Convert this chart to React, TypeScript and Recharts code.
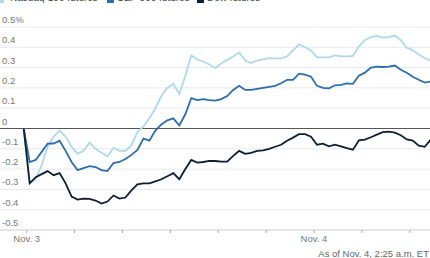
import React from 'react';
import { LineChart, Line, XAxis, YAxis, CartesianGrid, ReferenceLine } from 'recharts';

// hours since the Nov. 3 tick, every half hour
const hours = [
  -0.25, 0.25, 0.75, 1.25, 1.75, 2.25, 2.75, 3.25, 3.75, 4.25,
  4.75, 5.25, 5.75, 6.25, 6.75, 7.25, 7.75, 8.25, 8.75, 9.25,
  9.75, 10.25, 10.75, 11.25, 11.75, 12.25, 12.75, 13.25, 13.75, 14.25,
  14.75, 15.25, 15.75, 16.25, 16.75, 17.25, 17.75, 18.25, 18.75, 19.25,
  19.75, 20.25, 20.75, 21.25, 21.75, 22.25, 22.75, 23.25, 23.75, 24.25,
  24.75, 25.25, 25.75, 26.25, 26.75, 27.25, 27.75, 28.25, 28.75, 29.25,
  29.75, 30.25, 30.75, 31.25, 31.75, 32.25, 32.75, 33.25, 33.75,
];

const nasdaq = [
  0, -0.27, -0.25, -0.18, -0.09, -0.04, -0.01, -0.04, -0.09, -0.125,
  -0.11, -0.07, -0.1, -0.12, -0.137, -0.095, -0.11, -0.11, -0.083, -0.017,
  0.01, 0.05, 0.1, 0.16, 0.2, 0.22, 0.17, 0.26, 0.36, 0.34,
  0.33, 0.315, 0.297, 0.32, 0.338, 0.355, 0.375, 0.335, 0.322, 0.335,
  0.34, 0.347, 0.345, 0.345, 0.355, 0.385, 0.415, 0.4, 0.385, 0.35,
  0.35, 0.35, 0.36, 0.355, 0.355, 0.358, 0.405, 0.435, 0.45, 0.456,
  0.448, 0.45, 0.458, 0.435, 0.398, 0.385, 0.365, 0.347, 0.335,
];

const sp500 = [
  0, -0.165, -0.155, -0.115, -0.075, -0.074, -0.06, -0.11, -0.165, -0.205,
  -0.195, -0.185, -0.19, -0.205, -0.21, -0.17, -0.165, -0.15, -0.13, -0.105,
  -0.05, -0.06, -0.01, 0.02, 0.04, 0.05, 0.015, 0.07, 0.15, 0.14,
  0.145, 0.14, 0.137, 0.145, 0.16, 0.19, 0.21, 0.19, 0.19, 0.195,
  0.2, 0.205, 0.21, 0.223, 0.24, 0.24, 0.27, 0.265, 0.255, 0.21,
  0.2, 0.198, 0.213, 0.215, 0.222, 0.22, 0.26, 0.275, 0.3, 0.305,
  0.303, 0.305, 0.31, 0.289, 0.275, 0.255, 0.24, 0.226, 0.232,
];

const dow = [
  0, -0.27, -0.24, -0.225, -0.21, -0.23, -0.22, -0.27, -0.335, -0.35,
  -0.345, -0.347, -0.355, -0.37, -0.36, -0.33, -0.345, -0.34, -0.305, -0.275,
  -0.27, -0.27, -0.26, -0.25, -0.235, -0.22, -0.25, -0.2, -0.155, -0.168,
  -0.165, -0.16, -0.16, -0.163, -0.163, -0.135, -0.11, -0.125, -0.12, -0.11,
  -0.108, -0.1, -0.09, -0.08, -0.06, -0.045, -0.028, -0.028, -0.04, -0.08,
  -0.075, -0.088, -0.08, -0.088, -0.097, -0.104, -0.058, -0.055, -0.043, -0.03,
  -0.018, -0.015, -0.02, -0.033, -0.054, -0.06, -0.085, -0.09, -0.055,
];

const seriesNames = ['Nasdaq-100 futures', 'S&P 500 futures', 'Dow futures'];
const seriesKeys = ['nasdaq', 'sp500', 'dow'];
const seriesColors = ['#acdaea', '#2a6db2', '#0f1e35'];

const xTicks = [0, 4, 8, 12, 16, 20, 24, 28, 32];
const xTickLabels: Record<number, string> = { 0: 'Nov. 3', 24: 'Nov. 4' };
const yTicks = [-0.5, -0.4, -0.3, -0.2, -0.1, 0, 0.1, 0.2, 0.3, 0.4, 0.5];
const footnote = 'As of Nov. 4, 2:25 a.m. ET';

const chartData = hours.map((t, i) => ({
  t,
  nasdaq: nasdaq[i],
  sp500: sp500[i],
  dow: dow[i],
}));

const FONT = '"Liberation Sans", Arial, sans-serif';

const formatY = (v: number) => {
  if (Math.abs(v) < 1e-9) return '0';
  const s = v.toFixed(1);
  return v === 0.5 ? s + '%' : s;
};

const renderYTick = (props: any) => {
  const { y, payload } = props;
  return (
    <text x={2} y={y - 4} fontSize={9.5} fill="#777" fontFamily={FONT} textAnchor="start">
      {formatY(payload.value)}
    </text>
  );
};

const styles = {
  wrap: {
    position: 'absolute' as const,
    left: 0,
    top: 0,
    width: 430,
    height: 258,
    overflow: 'hidden',
    background: '#fff',
    fontFamily: FONT,
  },
  legendSwatch: {
    position: 'absolute' as const,
    top: -4,
    width: 7,
    height: 7,
  },
  legendText: {
    position: 'absolute' as const,
    top: -7,
    fontSize: 10,
    lineHeight: '10px',
    color: '#444',
    whiteSpace: 'nowrap' as const,
  },
  footnote: {
    position: 'absolute' as const,
    right: 1,
    top: 249,
    fontSize: 9.5,
    lineHeight: '10px',
    color: '#666',
    whiteSpace: 'nowrap' as const,
  },
};

const legendSwatchX = [-3.5, 106.5, 196.5];
const legendTextX = [10, 117, 207];

const App: React.FC = () => (
  <div style={styles.wrap}>
    <LineChart width={430} height={258} data={chartData} margin={{ top: 27, right: 0, left: 0, bottom: 0 }}>
      <CartesianGrid vertical={false} stroke="#e8e8e8" horizontalValues={yTicks} />
      <XAxis
        dataKey="t"
        type="number"
        domain={[-2.23, 33.69]}
        ticks={xTicks}
        allowDataOverflow
        height={28}
        axisLine={{ stroke: '#d8d8d8' }}
        tickLine={{ stroke: '#aaa' }}
        tickSize={3}
        tick={{ fontSize: 9.5, fill: '#777', fontFamily: FONT }}
        tickFormatter={(v: number) => xTickLabels[v] ?? ''}
        interval={0}
      />
      <YAxis
        type="number"
        domain={[-0.5, 0.5]}
        ticks={yTicks}
        mirror
        width={30}
        axisLine={false}
        tickLine={false}
        tick={renderYTick}
        interval={0}
      />
      <ReferenceLine y={0} stroke="#555" strokeWidth={1} />
      {seriesKeys.map((k, i) => (
        <Line
          key={k}
          type="linear"
          dataKey={k}
          name={seriesNames[i]}
          stroke={seriesColors[i]}
          strokeWidth={1.8}
          dot={false}
          isAnimationActive={false}
        />
      ))}
    </LineChart>

    {seriesNames.map((name, i) => (
      <React.Fragment key={name}>
        <div style={{ ...styles.legendSwatch, left: legendSwatchX[i], background: seriesColors[i] }} />
        <div style={{ ...styles.legendText, left: legendTextX[i] }}>{name}</div>
      </React.Fragment>
    ))}

    <div style={styles.footnote}>{footnote}</div>
  </div>
);

export default App;
